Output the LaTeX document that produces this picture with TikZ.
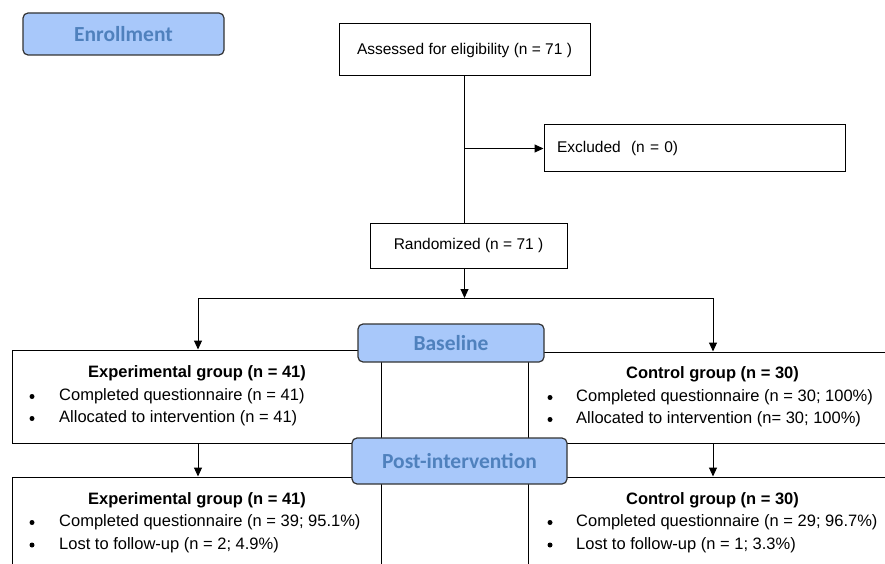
\documentclass[tikz,border=0pt]{standalone}
\usepackage{fontspec}
\setmainfont{Liberation Sans}
\newfontfamily\phasefont{Carlito}
\usepackage{xcolor}
\usetikzlibrary{arrows.meta}

\definecolor{phasefill}{HTML}{A8C8FA}
\definecolor{phasetext}{HTML}{4F81BD}
\definecolor{phaseedge}{HTML}{333333}

\tikzset{
	box/.style={draw=black, line width=1pt, rectangle, inner sep=0pt},
	phase/.style={draw=phaseedge, line width=1.2pt, fill=phasefill, rounded corners=5pt,
		text=phasetext, font=\phasefont\bfseries\fontsize{21.5}{24}\selectfont, inner sep=0pt},
	toptext/.style={font=\fontsize{15.5}{18}\selectfont},
	hdr/.style={font=\bfseries\fontsize{16.5}{19}\selectfont, inner sep=0pt},
	item/.style={font=\fontsize{16.5}{19}\selectfont, anchor=west, inner sep=0pt},
	dot/.style={circle, fill=black, inner sep=0pt, minimum size=5pt},
	link/.style={line width=1pt},
	arr/.style={-{Triangle[length=9pt,width=8pt]}, line width=1pt}
}

\begin{document}
\begin{tikzpicture}[x=1pt, y=-1pt]

	\useasboundingbox (0,0) rectangle (885,564);
	\clip (0,0) rectangle (885,564);

	% enrollment
	\node[phase, minimum width=201pt, minimum height=42pt] (enrol) at (123.5,34) {Enrollment};
	\node[box, toptext, minimum width=251pt, minimum height=52pt] (assess) at (464.5,50) {Assessed for eligibility (n = 71 )};
	\node[box, toptext, inner xsep=13pt, text width=275pt, align=left, minimum height=47pt] (excl) at (694.5,148.5) {Excluded~~(n = 0)};
	\node[box, toptext, minimum width=197pt, minimum height=45pt] (rand) at (468.5,245.5) {Randomized (n = 71 )};

	% group boxes
	\node[box, minimum width=369pt, minimum height=93pt] (exp1) at (196.5,396.5) {};
	\node[box, minimum width=377pt, minimum height=91pt] (ctl1) at (716.5,397.5) {};
	\node[box, minimum width=369pt, minimum height=126pt] (exp2) at (196.5,540) {};
	\node[box, minimum width=377pt, minimum height=126pt] (ctl2) at (716.5,540) {};

	% phases
	\node[phase, minimum width=186pt, minimum height=38pt] (base) at (451,343) {Baseline};
	\node[phase, minimum width=215pt, minimum height=46pt] (post) at (459.5,461) {Post-intervention};

	% baseline texts
	\node[hdr] (exp1h) at (197,373) {Experimental group (n = 41)};
	\node[dot] (exp1d1) at (32,396.5) {};
	\node[item] (exp1t1) at (59,396.5) {Completed questionnaire (n = 41)};
	\node[dot] (exp1d2) at (32,418.5) {};
	\node[item] (exp1t2) at (59,418.5) {Allocated to intervention (n = 41)};

	\node[hdr] (ctl1h) at (712.5,374) {Control group (n = 30)};
	\node[dot] (ctl1d1) at (550,397.5) {};
	\node[item] (ctl1t1) at (576,397.5) {Completed questionnaire (n = 30; 100\%)};
	\node[dot] (ctl1d2) at (550,419.5) {};
	\node[item] (ctl1t2) at (576,419.5) {Allocated to intervention (n= 30; 100\%)};

	% post-intervention texts
	\node[hdr] (exp2h) at (197,500) {Experimental group (n = 41)};
	\node[dot] (exp2d1) at (32,522.5) {};
	\node[item] (exp2t1) at (59,522.5) {Completed questionnaire (n = 39; 95.1\%)};
	\node[dot] (exp2d2) at (32,545) {};
	\node[item] (exp2t2) at (59,545) {Lost to follow-up (n = 2; 4.9\%)};

	\node[hdr] (ctl2h) at (712.5,500) {Control group (n = 30)};
	\node[dot] (ctl2d1) at (550,522.5) {};
	\node[item] (ctl2t1) at (576,522.5) {Completed questionnaire (n = 29; 96.7\%)};
	\node[dot] (ctl2d2) at (550,545) {};
	\node[item] (ctl2t2) at (576,545) {Lost to follow-up (n = 1; 3.3\%)};

	% connectors
	\coordinate (forkL) at (198,298);
	\coordinate (forkR) at (713,298);
	\coordinate (fork) at (assess.south |- forkL);
	\coordinate (split) at (assess.south |- excl.west);

	\draw[link] (assess.south) -- (assess.south |- rand.north);
	\draw[arr] (split) -- (excl.west);
	\draw[arr] (rand.south -| assess.south) -- (fork);
	\draw[link] (forkL) -- (forkR);
	\draw[arr] (forkL) -- (forkL |- exp1.north);
	\draw[arr] (forkR) -- (forkR |- ctl1.north);
	\draw[arr] (forkL |- exp1.south) -- (forkL |- exp2.north);
	\draw[arr] (forkR |- ctl1.south) -- (forkR |- ctl2.north);
\end{tikzpicture}
\end{document}
